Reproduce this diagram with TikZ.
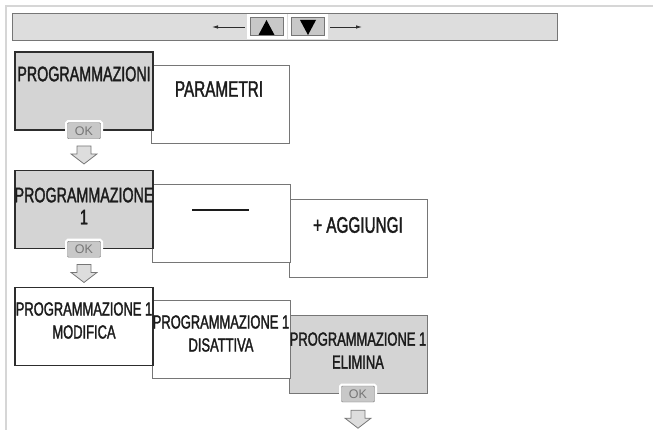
\documentclass[tikz,border=0pt]{standalone}
\usepackage{fontspec}
\setmainfont{Liberation Sans}[FakeStretch=0.68, FakeBold=1.6]
\newfontfamily\okfont{Liberation Sans}
\usepackage{tikz}
\usetikzlibrary{arrows.meta}
\usepackage{xcolor}
\definecolor{panelgrey}{RGB}{212, 212, 212}
\definecolor{bargrey}{RGB}{221, 221, 221}
\definecolor{edgegrey}{RGB}{118, 118, 118}
\definecolor{edgedark}{RGB}{45, 45, 45}
\definecolor{framegrey}{RGB}{214, 214, 214}
\definecolor{okgrey}{RGB}{200, 200, 200}
\definecolor{txtdark}{RGB}{28, 28, 28}

\tikzset{
  menubox/.style={draw=edgegrey, line width=1pt, fill=white, minimum width=138pt,
    minimum height=78pt, inner sep=0pt},
  activebox/.style={menubox, draw=edgedark, line width=1.5pt},
  menutxt/.style={text=txtdark, font=\fontsize{21}{22}\selectfont, align=center, inner sep=0pt},
  widetxt/.style={menutxt, font=\fontsize{22.5}{24}\selectfont},
  smalltxt/.style={menutxt, font=\fontsize{19}{23}\selectfont},
  okbtn/.style={draw=edgegrey, fill=okgrey, rounded corners=1pt, minimum width=33pt,
    minimum height=16pt, inner sep=0pt, text=edgegrey,
    font=\okfont\fontsize{12.5}{13}\selectfont, preaction={draw=white, line width=5pt}},
  keybtn/.style={draw=edgegrey, fill=okgrey, line width=1pt, minimum width=33pt,
    minimum height=18pt, inner sep=0pt, preaction={draw=white, line width=7pt}},
  hollowdown/.pic={
    \draw[edgegrey, fill=bargrey, line width=0.8pt] (-7,0) -- (7,0) -- (7,8) -- (13,8)
      -- (0,18) -- (-13,8) -- (-7,8) -- cycle;
  }
}

\begin{document}
\begin{tikzpicture}[x=1pt, y=-1pt, >={Latex[length=6pt, width=3.5pt]}]
    \useasboundingbox (0,0) rectangle (653,430);
    \draw[framegrey, line width=1.5pt] (6,430) -- (6,6) -- (653,6);

    % scroll bar with the two keys
    \node[draw=edgegrey, fill=bargrey, line width=1pt, minimum width=545pt,
      minimum height=27pt, inner sep=0pt] (bar) at (284.5,27.5) {};
    \node[keybtn] (up) at (266.5,27) {};
    \node[keybtn] (down) at (308,27) {};
    \fill[black] (up.center) ++(0,-7) -- ++(8,15) -- ++(-16,0) -- cycle;
    \fill[black] (down.center) ++(0,8) -- ++(8,-15) -- ++(-16,0) -- cycle;
    \coordinate (lefttip) at (212,27);
    \coordinate (righttip) at (362,27);
    \draw[->, edgedark, line width=0.8pt] ([xshift=-5pt]up.west) -- (lefttip);
    \draw[->, edgedark, line width=0.8pt] ([xshift=5pt]down.east) -- (righttip);

    % first row
    \node[menubox] (param) at (220,105) {};
    \node[activebox, fill=panelgrey] (prog) at (84,91) {};
    \node[menutxt] (progtxt) at (84,74) {PROGRAMMAZIONI};
    \node[widetxt] (paramtxt) at (219,89) {PARAMETRI};
    \node[okbtn] (ok1) at (prog.south) {OK};
    \path (ok1.south) ++(0,7) pic {hollowdown};

    % second row
    \node[menubox] (add) at (358,238.5) {};
    \node[menubox] (empty) at (221,223.5) {};
    \node[activebox, fill=panelgrey] (prog1) at (84,209.5) {};
    \node[menutxt] (prog1txt) at (84,206) {PROGRAMMAZIONE\\1};
    \node[menutxt] (dash) at (220.5,210) {\rule{57pt}{1.6pt}};
    \node[widetxt] (addtxt) at (358,225) {+ AGGIUNGI};
    \node[okbtn] (ok2) at (prog1.south) {OK};
    \path (ok2.south) ++(0,7) pic {hollowdown};

    % third row
    \node[menubox, fill=panelgrey] (del) at (358,354.5) {};
    \node[menubox] (off) at (221,339.5) {};
    \node[activebox] (edit) at (84,326.5) {};
    \node[smalltxt] (edittxt) at (84,320.5) {PROGRAMMAZIONE 1\\MODIFICA};
    \node[smalltxt] (offtxt) at (221,333.5) {PROGRAMMAZIONE 1\\DISATTIVA};
    \node[smalltxt] (deltxt) at (358,350.5) {PROGRAMMAZIONE 1\\ELIMINA};
    \node[okbtn] (ok3) at (del.south) {OK};
    \path (ok3.south) ++(0,8) pic {hollowdown};
\end{tikzpicture}
\end{document}
